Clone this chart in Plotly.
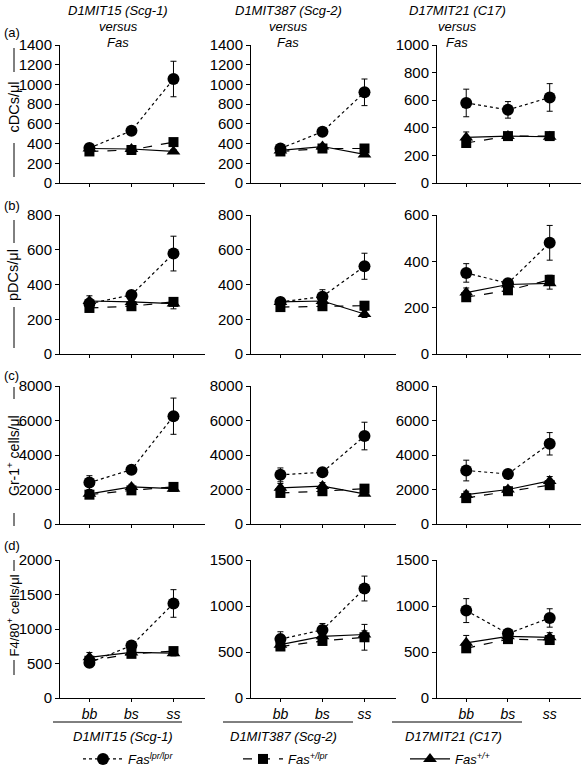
import plotly.graph_objects as go

# ---------------- data ----------------
genotypes = ["bb", "bs", "ss"]
loci = ["D1MIT15 (Scg-1)", "D1MIT387 (Scg-2)", "D17MIT21 (C17)"]
row_letters = ["(a)", "(b)", "(c)", "(d)"]
row_titles = ["cDCs/μl", "pDCs/μl", "Gr-1<sup>+</sup> cells/μl", "F4/80<sup>+</sup> cells/μl"]
series_names = ["Fas<sup>lpr/lpr</sup>", "Fas<sup>+/lpr</sup>", "Fas<sup>+/+</sup>"]

cdc_lpr = [[355, 530, 1055], [350, 520, 920], [580, 530, 620]]
cdc_lpr_err = [[30, 25, 180], [25, 25, 135], [100, 60, 100]]
cdc_het = [[320, 335, 415], [320, 350, 350], [290, 340, 340]]
cdc_het_err = [[20, 20, 30], [20, 20, 30], [25, 20, 20]]
cdc_wt = [[350, 345, 320], [330, 370, 290], [330, 340, 335]]
cdc_wt_err = [[20, 20, 20], [20, 20, 20], [40, 20, 25]]

pdc_lpr = [[290, 340, 578], [300, 330, 505], [350, 305, 480]]
pdc_lpr_err = [[20, 15, 100], [20, 40, 75], [40, 20, 75]]
pdc_het = [[265, 275, 300], [270, 275, 278], [245, 275, 320]]
pdc_het_err = [[15, 15, 20], [15, 15, 15], [15, 15, 20]]
pdc_wt = [[305, 300, 290], [300, 305, 230], [265, 300, 305]]
pdc_wt_err = [[30, 15, 30], [25, 15, 20], [20, 15, 25]]

gr1_lpr = [[2400, 3150, 6250], [2850, 3000, 5100], [3100, 2900, 4650]]
gr1_lpr_err = [[400, 150, 1050], [400, 150, 800], [600, 250, 650]]
gr1_het = [[1700, 1950, 2150], [1800, 1900, 2050], [1500, 1900, 2250]]
gr1_het_err = [[150, 150, 150], [150, 150, 150], [150, 150, 200]]
gr1_wt = [[1750, 2150, 2050], [2100, 2200, 1750], [1700, 2000, 2500]]
gr1_wt_err = [[150, 150, 100], [250, 200, 100], [200, 150, 250]]

f480_lpr = [[510, 760, 1370], [640, 740, 1190], [950, 700, 870]]
f480_lpr_err = [[60, 50, 200], [80, 70, 135], [130, 40, 100]]
f480_het = [[540, 640, 680], [560, 620, 660], [540, 640, 630]]
f480_het_err = [[40, 40, 40], [30, 30, 140], [40, 30, 30]]
f480_wt = [[590, 660, 650], [580, 670, 690], [600, 670, 660]]
f480_wt_err = [[70, 30, 40], [40, 30, 40], [80, 30, 50]]

y_max = [[1400, 1400, 1000], [800, 800, 600], [8000, 8000, 8000], [2000, 1500, 1500]]
y_step = [[200, 200, 200], [200, 200, 200], [2000, 2000, 2000], [500, 500, 500]]

rows = [
    [(cdc_lpr, cdc_lpr_err), (cdc_het, cdc_het_err), (cdc_wt, cdc_wt_err)],
    [(pdc_lpr, pdc_lpr_err), (pdc_het, pdc_het_err), (pdc_wt, pdc_wt_err)],
    [(gr1_lpr, gr1_lpr_err), (gr1_het, gr1_het_err), (gr1_wt, gr1_wt_err)],
    [(f480_lpr, f480_lpr_err), (f480_het, f480_het_err), (f480_wt, f480_wt_err)],
]

# ---------------- layout geometry (px) ----------------
W, H = 581, 770
col_px = [(60, 205), (251, 396), (437, 581)]
row_px = [(45, 183), (215, 354), (386, 524), (560, 698)]
# decorative bars beside the rotated y titles: (top bar), (bottom bar)
title_bars = [((48, 72), (143, 177)), ((220, 243), (307, 348)),
              ((387, 399), (513, 526)), ((560, 571), (660, 675))]
title_sizes = [14.5, 14.5, 14, 13]
FONT = "Liberation Sans, Arial, Helvetica, sans-serif"

styles = [
    dict(dash="dot", symbol="circle", size=12),
    dict(dash="dash", symbol="square", size=10),
    dict(dash="solid", symbol="triangle-up", size=12),
]
legend_ids = ["legend", "legend2", "legend3"]


def px_x(v):
    return v / W


def px_y(v):
    return 1 - v / H


fig = go.Figure()
layout = dict()
idx = 0
for r in range(4):
    for c in range(3):
        idx += 1
        xa = "x" if idx == 1 else f"x{idx}"
        ya = "y" if idx == 1 else f"y{idx}"
        xkey = "xaxis" if idx == 1 else f"xaxis{idx}"
        ykey = "yaxis" if idx == 1 else f"yaxis{idx}"
        for s in range(3):
            vals, errs = rows[r][s]
            st = styles[s]
            fig.add_trace(go.Scatter(
                x=[0, 1, 2], y=vals[c], xaxis=xa, yaxis=ya,
                mode="lines+markers",
                line=dict(color="black", width=1.2, dash=st["dash"]),
                marker=dict(color="black", symbol=st["symbol"], size=st["size"]),
                error_y=dict(type="data", array=errs[c], color="black",
                             thickness=1, width=3),
                name=series_names[s],
                showlegend=(r == 0 and c == 0),
                legend=legend_ids[s],
            ))
        layout[xkey] = dict(
            domain=[px_x(col_px[c][0]), min(1, px_x(col_px[c][1]))],
            anchor=ya, range=[-0.7, 2.75], tickvals=[0, 1, 2],
            ticktext=[f"<i>{g}</i>" for g in genotypes],
            showticklabels=(r == 3), ticks="outside", ticklen=3, tickcolor="black",
            showline=True, linecolor="black", linewidth=1, showgrid=False,
            zeroline=False, fixedrange=True, automargin=False,
            tickfont=dict(family=FONT, size=14, color="black"),
        )
        layout[ykey] = dict(
            domain=[px_y(row_px[r][1]), px_y(row_px[r][0])],
            anchor=xa, range=[0, y_max[r][c]], dtick=y_step[r][c], tick0=0,
            ticks="outside", ticklen=4, tickcolor="black",
            showline=True, linecolor="black", linewidth=1, showgrid=False,
            zeroline=False, fixedrange=True, automargin=False,
            tickfont=dict(family=FONT, size=15, color="black"),
        )

fig.update_layout(**layout)

annotations = []
shapes = []
# column headers
head_x = [118, 288, 457]
for c in range(3):
    for txt, yy in [(loci[c], 11), ("versus", 26), ("Fas", 42)]:
        annotations.append(dict(text=f"<i>{txt}</i>", x=px_x(head_x[c]), y=px_y(yy),
                                xref="paper", yref="paper", showarrow=False,
                                xanchor="center", yanchor="middle",
                                font=dict(family=FONT, size=13, color="black")))
# row letters and y titles
letter_y = [33, 206, 376, 545]
TITLE_X = 13
for r in range(4):
    annotations.append(dict(text=row_letters[r], x=px_x(2), y=px_y(letter_y[r]),
                            xref="paper", yref="paper", showarrow=False,
                            xanchor="left", yanchor="middle",
                            font=dict(family=FONT, size=13, color="black")))
    (t0, t1), (b0, b1) = title_bars[r]
    annotations.append(dict(text=row_titles[r], x=px_x(TITLE_X),
                            y=px_y((t1 + b0) / 2),
                            xref="paper", yref="paper", showarrow=False, textangle=-90,
                            xanchor="center", yanchor="middle",
                            font=dict(family=FONT, size=title_sizes[r], color="black")))
    for (a0, a1) in title_bars[r]:
        shapes.append(dict(type="line", xref="paper", yref="paper",
                           x0=px_x(TITLE_X + 1), x1=px_x(TITLE_X + 1),
                           y0=px_y(a0), y1=px_y(a1),
                           line=dict(color="black", width=1)))
# bottom locus labels with underline
under_px = [(53, 182), (223, 353), (392, 522)]
label_x = [123, 283, 453]
for c in range(3):
    shapes.append(dict(type="line", xref="paper", yref="paper",
                       x0=px_x(under_px[c][0]), x1=px_x(under_px[c][1]),
                       y0=px_y(722), y1=px_y(722),
                       line=dict(color="black", width=1)))
    annotations.append(dict(text=f"<i>{loci[c]}</i>", x=px_x(label_x[c]), y=px_y(736),
                            xref="paper", yref="paper", showarrow=False,
                            xanchor="center", yanchor="middle",
                            font=dict(family=FONT, size=13, color="black")))

legend_x = [78, 238, 405]
leg_common = dict(orientation="h", yanchor="middle", xanchor="left",
                  xref="container", yref="container",
                  bgcolor="rgba(0,0,0,0)", itemwidth=40,
                  font=dict(family=FONT, size=13, color="black", style="italic"))
fig.update_layout(
    template="none",
    width=W, height=H, autosize=False,
    margin=dict(l=0, r=0, t=0, b=0, autoexpand=False),
    paper_bgcolor="white", plot_bgcolor="white",
    annotations=annotations, shapes=shapes,
    legend=dict(x=px_x(legend_x[0]), y=px_y(759), **leg_common),
    legend2=dict(x=px_x(legend_x[1]), y=px_y(759), **leg_common),
    legend3=dict(x=px_x(legend_x[2]), y=px_y(759), **leg_common),
)

fig.write_html("out.html", config={"displayModeBar": False},
               post_script="document.body.style.margin='0';document.body.style.overflow='hidden';")
